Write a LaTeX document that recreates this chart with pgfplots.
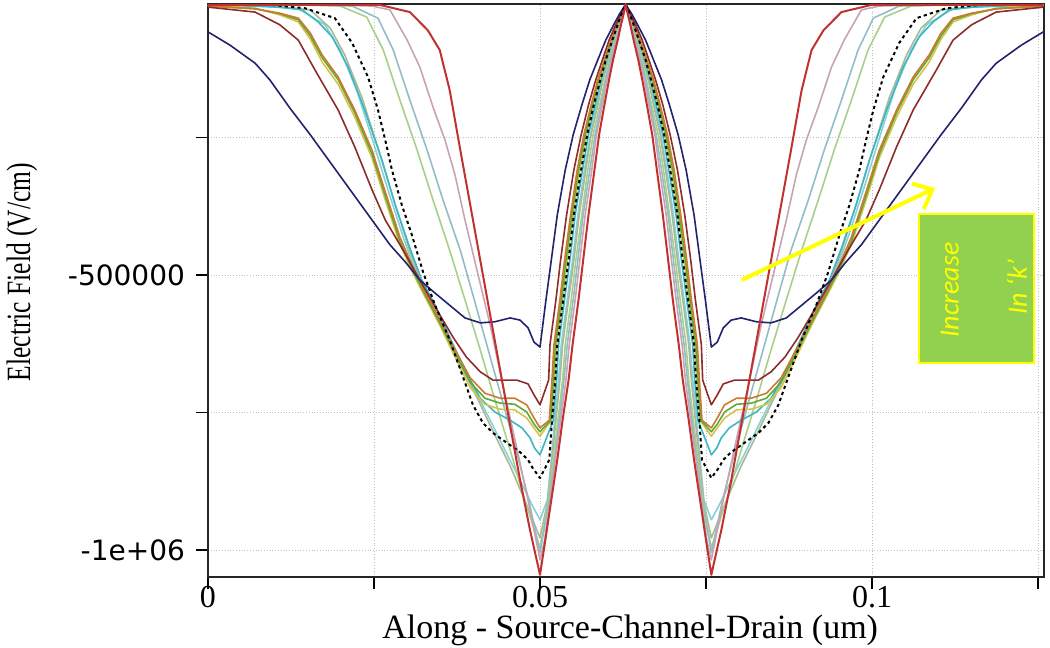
\documentclass[border=0pt]{standalone}
\usepackage{pgfplots}
\pgfplotsset{compat=1.18}
\usetikzlibrary{arrows.meta}
\usepackage{fontspec}
\setmainfont{Liberation Serif}
\newfontfamily\tickfont{DejaVu Sans}
\newfontfamily\annfont{Carlito}
\definecolor{cnavy}{HTML}{22226E}
\definecolor{cdred}{HTML}{8E2B2B}
\definecolor{corange}{HTML}{CD7A2E}
\definecolor{cgreen}{HTML}{5DAA3A}
\definecolor{cgold}{HTML}{D6C34A}
\definecolor{ccyan}{HTML}{3DB6C6}
\definecolor{clcyan}{HTML}{86D2DA}
\definecolor{cgraygreen}{HTML}{A9B994}
\definecolor{clgreen}{HTML}{A8D08A}
\definecolor{cteal}{HTML}{93BDC6}
\definecolor{cmauve}{HTML}{C7A3B3}
\definecolor{cred}{HTML}{C0312F}
\definecolor{boxgreen}{HTML}{92D050}
\definecolor{annyellow}{HTML}{FFFF00}
\begin{document}
\begin{tikzpicture}
\path[use as bounding box] (-104pt,-35.5pt) rectangle (421pt,288.5pt);
\begin{axis}[
  at={(0,0)}, anchor=south west,
  scale only axis, width=418pt, height=286.5pt,
  xmin=0, xmax=0.1259, ymin=-1049000, ymax=-7300,
  xtick={0,0.025,0.05,0.075,0.1,0.125}, xticklabels={0,,0.05,,0.1,},
  ytick={-1000000,-750000,-500000,-250000}, yticklabels={-1e+06,,-500000,},
  scaled ticks=false,
  tick align=outside, xtick pos=bottom, ytick pos=left,
  major tick length=6pt,
  grid=major, major grid style={gray!50, densely dotted, line width=0.5pt},
  axis line style={line width=1pt, black!85},
  tick style={black, line width=0.8pt},
  xticklabel style={font=\fontsize{16}{16}\selectfont, inner sep=0pt, yshift=1.5pt},
  yticklabel style={font=\tickfont\fontsize{14}{14}\selectfont, xshift=-2pt},
  xlabel={Along - Source-Channel-Drain (um)},
  xlabel style={at={(axis description cs:0.505,-0.1082)}, anchor=base, inner sep=0pt, font=\fontsize{17}{17}\selectfont},
  ylabel={\scalebox{0.75}[1]{Electric Field (V/cm)}},
  ylabel style={at={(axis description cs:-0.2225,0.532)}, anchor=center, font=\fontsize{17}{17}\selectfont},
  every axis plot/.append style={line width=0.8pt, line join=round, no markers},
]
% light cyan (shallow A)
\addplot[clcyan] coordinates {(0,-9000)(0.0078,-11000)(0.0136,-16000)(0.0176,-45000)(0.0199,-91000)(0.0224,-164000)(0.0248,-255000)(0.0271,-345000)(0.0294,-431000)(0.0316,-505000)(0.0334,-545000)(0.0357,-600000)(0.0380,-655000)(0.0402,-709000)(0.0425,-764000)(0.0447,-818000)(0.0470,-873000)(0.0488,-918000)(0.0500,-945000)
(0.0511,-909000)(0.0517,-836000)(0.0522,-764000)(0.0528,-691000)(0.0532,-627000)(0.0541,-545000)(0.0549,-473000)(0.0557,-391000)(0.0567,-309000)(0.0576,-245000)(0.0585,-191000)(0.0594,-145000)(0.0602,-109000)(0.0611,-73000)(0.0618,-45000)(0.0624,-25000)(0.0629,-8000)
(0.0634,-25000)(0.0640,-45000)(0.0647,-73000)(0.0656,-109000)(0.0664,-145000)(0.0673,-191000)(0.0682,-245000)(0.0691,-309000)(0.0701,-391000)(0.0709,-473000)(0.0717,-545000)(0.0726,-627000)(0.0730,-691000)(0.0736,-764000)(0.0741,-836000)(0.0747,-909000)(0.0758,-945000)
(0.0770,-918000)(0.0788,-873000)(0.0811,-818000)(0.0833,-764000)(0.0856,-709000)(0.0878,-655000)(0.0901,-600000)(0.0924,-545000)(0.0942,-505000)(0.0964,-431000)(0.0987,-345000)(0.1010,-255000)(0.1034,-164000)(0.1059,-91000)(0.1082,-45000)(0.1122,-16000)(0.1180,-11000)(0.1258,-9000)};
% gray-green (shallow B)
\addplot[cgraygreen] coordinates {(0,-9000)(0.0093,-11000)(0.0154,-18000)(0.0184,-51000)(0.0206,-100000)(0.0232,-178000)(0.0256,-269000)(0.0279,-360000)(0.0301,-445000)(0.0322,-518000)(0.0342,-567000)(0.0364,-622000)(0.0387,-678000)(0.0410,-735000)(0.0432,-791000)(0.0455,-847000)(0.0477,-909000)(0.0500,-978000)
(0.0512,-909000)(0.0518,-836000)(0.0524,-764000)(0.0530,-691000)(0.0534,-627000)(0.0543,-545000)(0.0551,-473000)(0.0559,-391000)(0.0569,-309000)(0.0577,-245000)(0.0587,-191000)(0.0595,-145000)(0.0603,-109000)(0.0612,-73000)(0.0619,-45000)(0.0624,-25000)(0.0629,-8000)
(0.0634,-25000)(0.0639,-45000)(0.0646,-73000)(0.0655,-109000)(0.0663,-145000)(0.0671,-191000)(0.0681,-245000)(0.0689,-309000)(0.0699,-391000)(0.0707,-473000)(0.0715,-545000)(0.0724,-627000)(0.0728,-691000)(0.0734,-764000)(0.0740,-836000)(0.0746,-909000)(0.0758,-978000)
(0.0781,-909000)(0.0803,-847000)(0.0826,-791000)(0.0848,-735000)(0.0871,-678000)(0.0894,-622000)(0.0916,-567000)(0.0936,-518000)(0.0957,-445000)(0.0979,-360000)(0.1002,-269000)(0.1026,-178000)(0.1052,-100000)(0.1074,-51000)(0.1104,-18000)(0.1165,-11000)(0.1258,-9000)};
% light green (steep)
\addplot[clgreen] coordinates {(0,-9000)(0.0139,-9000)(0.0199,-11000)(0.0239,-31000)(0.0264,-91000)(0.0289,-182000)(0.0315,-273000)(0.0339,-364000)(0.0364,-455000)(0.0387,-545000)(0.0410,-636000)(0.0432,-727000)(0.0455,-818000)(0.0477,-909000)(0.0500,-996000)
(0.0513,-909000)(0.0520,-836000)(0.0527,-764000)(0.0534,-691000)(0.0538,-627000)(0.0547,-545000)(0.0554,-473000)(0.0563,-391000)(0.0572,-309000)(0.0580,-245000)(0.0590,-191000)(0.0598,-145000)(0.0605,-109000)(0.0613,-73000)(0.0620,-45000)(0.0625,-25000)(0.0629,-8000)
(0.0633,-25000)(0.0638,-45000)(0.0645,-73000)(0.0653,-109000)(0.0660,-145000)(0.0668,-191000)(0.0678,-245000)(0.0686,-309000)(0.0695,-391000)(0.0704,-473000)(0.0711,-545000)(0.0720,-627000)(0.0724,-691000)(0.0731,-764000)(0.0738,-836000)(0.0745,-909000)(0.0758,-996000)
(0.0781,-909000)(0.0803,-818000)(0.0826,-727000)(0.0848,-636000)(0.0871,-545000)(0.0894,-455000)(0.0919,-364000)(0.0943,-273000)(0.0969,-182000)(0.0994,-91000)(0.1019,-31000)(0.1059,-11000)(0.1119,-9000)(0.1258,-9000)};
% teal (steep)
\addplot[cteal] coordinates {(0,-9000)(0.0154,-9000)(0.0217,-11000)(0.0256,-33000)(0.0279,-91000)(0.0304,-182000)(0.0330,-273000)(0.0354,-364000)(0.0380,-455000)(0.0401,-545000)(0.0422,-636000)(0.0443,-727000)(0.0464,-818000)(0.0483,-909000)(0.0500,-1005000)
(0.0514,-909000)(0.0522,-836000)(0.0529,-764000)(0.0536,-691000)(0.0541,-627000)(0.0550,-545000)(0.0557,-473000)(0.0565,-391000)(0.0575,-309000)(0.0583,-245000)(0.0592,-191000)(0.0599,-145000)(0.0606,-109000)(0.0614,-73000)(0.0620,-45000)(0.0625,-25000)(0.0629,-8000)
(0.0633,-25000)(0.0638,-45000)(0.0644,-73000)(0.0652,-109000)(0.0659,-145000)(0.0666,-191000)(0.0675,-245000)(0.0683,-309000)(0.0693,-391000)(0.0701,-473000)(0.0708,-545000)(0.0717,-627000)(0.0722,-691000)(0.0729,-764000)(0.0736,-836000)(0.0744,-909000)(0.0758,-1005000)
(0.0775,-909000)(0.0794,-818000)(0.0815,-727000)(0.0836,-636000)(0.0857,-545000)(0.0878,-455000)(0.0904,-364000)(0.0928,-273000)(0.0954,-182000)(0.0979,-91000)(0.1002,-33000)(0.1041,-11000)(0.1104,-9000)(0.1258,-9000)};
% mauve (steep)
\addplot[cmauve] coordinates {(0,-9000)(0.0184,-9000)(0.0247,-11000)(0.0274,-18000)(0.0300,-73000)(0.0319,-122000)(0.0339,-195000)(0.0357,-255000)(0.0372,-318000)(0.0387,-400000)(0.0405,-491000)(0.0425,-591000)(0.0444,-700000)(0.0464,-809000)(0.0482,-909000)(0.0500,-1018000)
(0.0507,-982000)(0.0515,-909000)(0.0523,-836000)(0.0531,-764000)(0.0539,-691000)(0.0544,-627000)(0.0553,-545000)(0.0560,-473000)(0.0568,-391000)(0.0578,-309000)(0.0585,-245000)(0.0594,-191000)(0.0601,-145000)(0.0608,-109000)(0.0615,-73000)(0.0621,-45000)(0.0625,-25000)(0.0629,-8000)
(0.0633,-25000)(0.0637,-45000)(0.0643,-73000)(0.0650,-109000)(0.0657,-145000)(0.0664,-191000)(0.0673,-245000)(0.0680,-309000)(0.0690,-391000)(0.0698,-473000)(0.0705,-545000)(0.0714,-627000)(0.0719,-691000)(0.0727,-764000)(0.0735,-836000)(0.0743,-909000)(0.0751,-982000)(0.0758,-1018000)
(0.0776,-909000)(0.0794,-809000)(0.0814,-700000)(0.0833,-591000)(0.0853,-491000)(0.0871,-400000)(0.0886,-318000)(0.0901,-255000)(0.0919,-195000)(0.0939,-122000)(0.0958,-73000)(0.0984,-18000)(0.1011,-11000)(0.1074,-9000)(0.1258,-9000)};
% cyan (plateau)
\addplot[ccyan] coordinates {(0,-9000)(0.0063,-11000)(0.0108,-13000)(0.0142,-18000)(0.0166,-40000)(0.0187,-67000)(0.0211,-122000)(0.0236,-200000)(0.0262,-291000)(0.0282,-373000)(0.0304,-451000)(0.0322,-509000)(0.0342,-555000)(0.0364,-613000)(0.0387,-673000)(0.0410,-724000)(0.0432,-749000)(0.0455,-764000)(0.0473,-778000)(0.0485,-796000)(0.0492,-815000)(0.0500,-827000)
(0.0520,-764000)(0.0525,-691000)(0.0528,-627000)(0.0537,-545000)(0.0545,-473000)(0.0553,-391000)(0.0564,-309000)(0.0573,-245000)(0.0583,-191000)(0.0592,-145000)(0.0600,-109000)(0.0609,-73000)(0.0617,-45000)(0.0623,-25000)(0.0629,-8000)
(0.0635,-25000)(0.0641,-45000)(0.0649,-73000)(0.0658,-109000)(0.0666,-145000)(0.0675,-191000)(0.0685,-245000)(0.0694,-309000)(0.0705,-391000)(0.0713,-473000)(0.0721,-545000)(0.0730,-627000)(0.0733,-691000)(0.0738,-764000)(0.0758,-827000)
(0.0766,-815000)(0.0773,-796000)(0.0785,-778000)(0.0803,-764000)(0.0826,-749000)(0.0848,-724000)(0.0871,-673000)(0.0894,-613000)(0.0916,-555000)(0.0936,-509000)(0.0954,-451000)(0.0976,-373000)(0.0996,-291000)(0.1022,-200000)(0.1047,-122000)(0.1071,-67000)(0.1092,-40000)(0.1116,-18000)(0.1150,-13000)(0.1195,-11000)(0.1258,-9000)};
% gold
\addplot[cgold] coordinates {(0,-9000)(0.0071,-15000)(0.0108,-27000)(0.0136,-40000)(0.0154,-71000)(0.0172,-113000)(0.0196,-153000)(0.0221,-213000)(0.0247,-287000)(0.0267,-364000)(0.0289,-444000)(0.0309,-498000)(0.0327,-540000)(0.0349,-591000)(0.0372,-649000)(0.0395,-705000)(0.0417,-735000)(0.0440,-744000)(0.0462,-745000)(0.0480,-760000)(0.0491,-778000)(0.0500,-793000)
(0.0517,-764000)(0.0522,-691000)(0.0525,-627000)(0.0534,-545000)(0.0541,-473000)(0.0550,-391000)(0.0560,-309000)(0.0570,-245000)(0.0580,-191000)(0.0590,-145000)(0.0599,-109000)(0.0608,-73000)(0.0617,-45000)(0.0623,-25000)(0.0629,-8000)
(0.0635,-25000)(0.0641,-45000)(0.0650,-73000)(0.0659,-109000)(0.0668,-145000)(0.0678,-191000)(0.0688,-245000)(0.0698,-309000)(0.0708,-391000)(0.0717,-473000)(0.0724,-545000)(0.0733,-627000)(0.0736,-691000)(0.0741,-764000)(0.0758,-793000)
(0.0767,-778000)(0.0778,-760000)(0.0796,-745000)(0.0818,-744000)(0.0841,-735000)(0.0863,-705000)(0.0886,-649000)(0.0909,-591000)(0.0931,-540000)(0.0949,-498000)(0.0969,-444000)(0.0991,-364000)(0.1011,-287000)(0.1037,-213000)(0.1062,-153000)(0.1086,-113000)(0.1104,-71000)(0.1122,-40000)(0.1150,-27000)(0.1187,-15000)(0.1258,-9000)};
% green
\addplot[cgreen] coordinates {(0,-11000)(0.0071,-16000)(0.0108,-25000)(0.0136,-36000)(0.0154,-65000)(0.0172,-105000)(0.0196,-145000)(0.0221,-205000)(0.0247,-280000)(0.0267,-356000)(0.0289,-438000)(0.0309,-493000)(0.0327,-536000)(0.0349,-587000)(0.0372,-642000)(0.0395,-695000)(0.0417,-724000)(0.0440,-733000)(0.0462,-735000)(0.0480,-749000)(0.0491,-771000)(0.0500,-785000)
(0.0516,-764000)(0.0520,-691000)(0.0523,-627000)(0.0532,-545000)(0.0539,-473000)(0.0548,-391000)(0.0558,-309000)(0.0568,-245000)(0.0579,-191000)(0.0588,-145000)(0.0598,-109000)(0.0607,-73000)(0.0616,-45000)(0.0623,-25000)(0.0629,-8000)
(0.0635,-25000)(0.0642,-45000)(0.0651,-73000)(0.0660,-109000)(0.0670,-145000)(0.0679,-191000)(0.0690,-245000)(0.0700,-309000)(0.0710,-391000)(0.0719,-473000)(0.0726,-545000)(0.0735,-627000)(0.0738,-691000)(0.0742,-764000)(0.0758,-785000)
(0.0767,-771000)(0.0778,-749000)(0.0796,-735000)(0.0818,-733000)(0.0841,-724000)(0.0863,-695000)(0.0886,-642000)(0.0909,-587000)(0.0931,-536000)(0.0949,-493000)(0.0969,-438000)(0.0991,-356000)(0.1011,-280000)(0.1037,-205000)(0.1062,-145000)(0.1086,-105000)(0.1104,-65000)(0.1122,-36000)(0.1150,-25000)(0.1187,-16000)(0.1258,-11000)};
% orange
\addplot[corange] coordinates {(0,-11000)(0.0071,-16000)(0.0108,-24000)(0.0136,-33000)(0.0154,-60000)(0.0172,-100000)(0.0196,-140000)(0.0221,-200000)(0.0247,-273000)(0.0267,-349000)(0.0289,-431000)(0.0309,-487000)(0.0327,-531000)(0.0349,-582000)(0.0372,-636000)(0.0395,-687000)(0.0417,-715000)(0.0440,-724000)(0.0462,-724000)(0.0480,-736000)(0.0491,-760000)(0.0500,-778000)
(0.0514,-764000)(0.0518,-691000)(0.0521,-627000)(0.0530,-545000)(0.0537,-473000)(0.0546,-391000)(0.0556,-309000)(0.0566,-245000)(0.0577,-191000)(0.0587,-145000)(0.0597,-109000)(0.0607,-73000)(0.0616,-45000)(0.0623,-25000)(0.0629,-8000)
(0.0635,-25000)(0.0642,-45000)(0.0651,-73000)(0.0661,-109000)(0.0671,-145000)(0.0681,-191000)(0.0692,-245000)(0.0702,-309000)(0.0712,-391000)(0.0721,-473000)(0.0728,-545000)(0.0737,-627000)(0.0740,-691000)(0.0744,-764000)(0.0758,-778000)
(0.0767,-760000)(0.0778,-736000)(0.0796,-724000)(0.0818,-724000)(0.0841,-715000)(0.0863,-687000)(0.0886,-636000)(0.0909,-582000)(0.0931,-531000)(0.0949,-487000)(0.0969,-431000)(0.0991,-349000)(0.1011,-273000)(0.1037,-200000)(0.1062,-140000)(0.1086,-100000)(0.1104,-60000)(0.1122,-33000)(0.1150,-24000)(0.1187,-16000)(0.1258,-11000)};
% dark red
\addplot[cdred] coordinates {(0,-13000)(0.0071,-22000)(0.0108,-45000)(0.0136,-73000)(0.0161,-127000)(0.0196,-200000)(0.0221,-267000)(0.0247,-345000)(0.0267,-400000)(0.0294,-455000)(0.0319,-509000)(0.0345,-564000)(0.0369,-613000)(0.0389,-649000)(0.0410,-676000)(0.0429,-691000)(0.0447,-691000)(0.0465,-691000)(0.0482,-698000)(0.0491,-718000)(0.0500,-736000)
(0.0513,-691000)(0.0515,-627000)(0.0524,-545000)(0.0531,-473000)(0.0540,-391000)(0.0551,-309000)(0.0562,-245000)(0.0573,-191000)(0.0584,-145000)(0.0594,-109000)(0.0604,-73000)(0.0614,-45000)(0.0622,-25000)(0.0629,-8000)
(0.0636,-25000)(0.0644,-45000)(0.0654,-73000)(0.0664,-109000)(0.0674,-145000)(0.0685,-191000)(0.0696,-245000)(0.0707,-309000)(0.0718,-391000)(0.0727,-473000)(0.0734,-545000)(0.0743,-627000)(0.0745,-691000)(0.0758,-736000)
(0.0767,-718000)(0.0776,-698000)(0.0793,-691000)(0.0811,-691000)(0.0829,-691000)(0.0848,-676000)(0.0869,-649000)(0.0889,-613000)(0.0913,-564000)(0.0939,-509000)(0.0964,-455000)(0.0991,-400000)(0.1011,-345000)(0.1037,-267000)(0.1062,-200000)(0.1097,-127000)(0.1122,-73000)(0.1150,-45000)(0.1187,-22000)(0.1258,-13000)};
% navy
\addplot[cnavy] coordinates {(0,-58000)(0.0033,-82000)(0.0071,-115000)(0.0093,-145000)(0.0123,-196000)(0.0154,-245000)(0.0184,-295000)(0.0214,-345000)(0.0244,-395000)(0.0274,-445000)(0.0297,-476000)(0.0319,-509000)(0.0342,-533000)(0.0364,-555000)(0.0387,-578000)(0.0410,-587000)(0.0432,-585000)(0.0455,-578000)(0.0470,-582000)(0.0482,-596000)(0.0491,-622000)(0.0500,-631000)
(0.0509,-545000)(0.0517,-473000)(0.0526,-391000)(0.0538,-309000)(0.0550,-245000)(0.0563,-191000)(0.0575,-145000)(0.0587,-109000)(0.0599,-73000)(0.0611,-45000)(0.0620,-25000)(0.0629,-8000)
(0.0638,-25000)(0.0647,-45000)(0.0659,-73000)(0.0671,-109000)(0.0683,-145000)(0.0695,-191000)(0.0708,-245000)(0.0720,-309000)(0.0732,-391000)(0.0741,-473000)(0.0749,-545000)(0.0758,-631000)
(0.0767,-622000)(0.0776,-596000)(0.0788,-582000)(0.0803,-578000)(0.0826,-585000)(0.0848,-587000)(0.0871,-578000)(0.0894,-555000)(0.0916,-533000)(0.0939,-509000)(0.0961,-476000)(0.0984,-445000)(0.1014,-395000)(0.1044,-345000)(0.1074,-295000)(0.1104,-245000)(0.1135,-196000)(0.1165,-145000)(0.1187,-115000)(0.1225,-82000)(0.1258,-58000)};
% black dotted
\addplot[black, line width=1pt, dash pattern=on 1.6pt off 1.6pt] coordinates {(0,-9000)(0.0096,-9000)(0.0146,-15000)(0.0191,-33000)(0.0217,-78000)(0.0241,-140000)(0.0256,-200000)(0.0267,-255000)(0.0277,-309000)(0.0292,-373000)(0.0307,-427000)(0.0324,-495000)(0.0342,-555000)(0.0364,-618000)(0.0383,-682000)(0.0399,-736000)(0.0414,-769000)(0.0429,-787000)(0.0450,-805000)(0.0470,-822000)(0.0482,-836000)(0.0489,-851000)(0.0500,-869000)
(0.0514,-836000)(0.0518,-764000)(0.0523,-691000)(0.0526,-627000)(0.0535,-545000)(0.0543,-473000)(0.0551,-391000)(0.0562,-309000)(0.0571,-245000)(0.0581,-191000)(0.0591,-145000)(0.0599,-109000)(0.0609,-73000)(0.0617,-45000)(0.0623,-25000)(0.0629,-8000)
(0.0635,-25000)(0.0641,-45000)(0.0649,-73000)(0.0659,-109000)(0.0667,-145000)(0.0677,-191000)(0.0687,-245000)(0.0696,-309000)(0.0707,-391000)(0.0715,-473000)(0.0723,-545000)(0.0732,-627000)(0.0735,-691000)(0.0740,-764000)(0.0744,-836000)(0.0758,-869000)
(0.0769,-851000)(0.0776,-836000)(0.0788,-822000)(0.0808,-805000)(0.0829,-787000)(0.0844,-769000)(0.0859,-736000)(0.0875,-682000)(0.0894,-618000)(0.0916,-555000)(0.0934,-495000)(0.0951,-427000)(0.0966,-373000)(0.0981,-309000)(0.0991,-255000)(0.1002,-200000)(0.1017,-140000)(0.1041,-78000)(0.1067,-33000)(0.1112,-15000)(0.1162,-9000)(0.1258,-9000)};
% red
\addplot[cred, line width=1pt] coordinates {(0,-9000)(0.0139,-9000)(0.0259,-9000)(0.0304,-22000)(0.0331,-55000)(0.0349,-91000)(0.0364,-164000)(0.0380,-273000)(0.0395,-373000)(0.0410,-473000)(0.0425,-573000)(0.0440,-673000)(0.0455,-773000)(0.0470,-873000)(0.0485,-964000)(0.0500,-1045000)
(0.0508,-982000)(0.0517,-909000)(0.0526,-836000)(0.0534,-764000)(0.0543,-691000)(0.0549,-627000)(0.0558,-545000)(0.0565,-473000)(0.0573,-391000)(0.0582,-309000)(0.0589,-245000)(0.0597,-191000)(0.0604,-145000)(0.0610,-109000)(0.0617,-73000)(0.0622,-45000)(0.0626,-25000)(0.0629,-8000)
(0.0632,-25000)(0.0636,-45000)(0.0641,-73000)(0.0648,-109000)(0.0654,-145000)(0.0661,-191000)(0.0669,-245000)(0.0676,-309000)(0.0685,-391000)(0.0693,-473000)(0.0700,-545000)(0.0709,-627000)(0.0715,-691000)(0.0724,-764000)(0.0732,-836000)(0.0741,-909000)(0.0750,-982000)(0.0758,-1045000)
(0.0773,-964000)(0.0788,-873000)(0.0803,-773000)(0.0818,-673000)(0.0833,-573000)(0.0848,-473000)(0.0863,-373000)(0.0878,-273000)(0.0894,-164000)(0.0909,-91000)(0.0927,-55000)(0.0954,-22000)(0.0999,-9000)(0.1119,-9000)(0.1258,-9000)};
% annotation
\draw[annyellow, line width=2pt, -{Straight Barb[length=8pt,width=14pt]}] (axis cs:0.0804,-509000) -- (axis cs:0.1095,-342000);
\draw[fill=boxgreen, draw=annyellow, line width=0.8pt] (axis cs:0.1071,-389000) rectangle (axis cs:0.1244,-660000);
\node[rotate=90, text=annyellow, font=\annfont\itshape\fontsize{14}{14}\selectfont] at (axis cs:0.1117,-527000) {Increase};
\node[rotate=90, text=annyellow, font=\annfont\itshape\fontsize{14}{14}\selectfont] at (axis cs:0.1218,-522000) {In ‘k’};
\end{axis}
\end{tikzpicture}
\end{document}
